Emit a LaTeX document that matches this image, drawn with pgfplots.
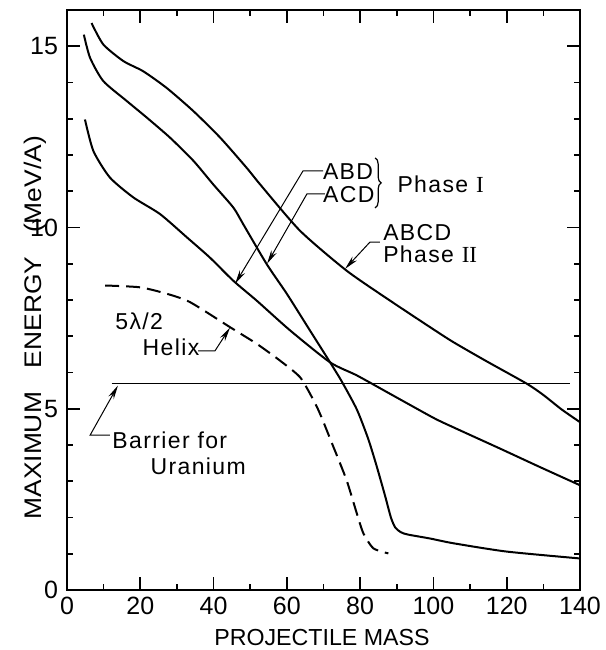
\documentclass[border=0pt]{standalone}
\usepackage{fontspec}
\setmainfont{Liberation Sans}
\newfontfamily\romfont{Liberation Serif}
\newfontfamily\annfont[LetterSpace=6]{Liberation Sans}
\usepackage{graphicx}
\usepackage{pgfplots}
\pgfplotsset{compat=1.18}
\usetikzlibrary{arrows.meta,decorations.pathreplacing}

\tikzset{
  lead/.style={line width=0.5pt,-{Stealth[length=7pt,width=3pt]}},
  ann/.style={font=\annfont\fontsize{11.5}{13}\selectfont, inner sep=0pt},
}

\begin{document}
\begin{tikzpicture}
\begin{axis}[
    at={(0,0)}, anchor=south west,
    scale only axis, width=256.5pt, height=290pt,
    xmin=0, xmax=140, ymin=0, ymax=16,
    xtick={0,20,...,140}, ytick={0,5,10,15},
    minor x tick num=1, minor y tick num=4,
    tick align=inside,
    major tick length=6.5pt, minor tick length=3pt,
    tick style={black, line width=0.8pt},
    axis line style={line width=1pt},
    ticklabel style={font=\fontsize{12.5}{14}\selectfont},
    yticklabel style={xshift=-1pt},
    /pgf/number format/assume math mode=true,
    xlabel={PROJECTILE MASS},
    xlabel style={font=\fontsize{11.6}{13}\selectfont, at={(axis description cs:0.497,0)}, anchor=center, yshift=-24pt},
    ylabel={\scalebox{1.1}[1]{MAXIMUM\hspace{0.9em}ENERGY\hspace{0.9em}(MeV/A)}},
    ylabel style={font=\fontsize{12}{14}\selectfont, at={(axis description cs:0,0.452)}, anchor=center, yshift=16pt},
    clip=false,
]
% ABCD Phase II
\addplot[black, line width=1pt, smooth, tension=0.4] coordinates {
  (6.7,15.64) (9.9,15.05) (15.4,14.59) (20.8,14.31) (27.2,13.85) (34.5,13.21)
  (41.8,12.48) (49.0,11.65) (52.7,11.19) (63.6,9.91) (76.3,8.81) (88.2,7.98)
  (99.1,7.25) (105.4,6.84) (114.5,6.31) (125.5,5.69) (130,5.38) (135,4.98)
  (140,4.63)
};
% ACD Phase I
\addplot[black, line width=1pt, smooth, tension=0.4] coordinates {
  (4.6,15.32) (6.3,14.68) (9.9,14.04) (16.3,13.49) (21.8,13.03) (28.1,12.48)
  (34.5,11.84) (39.9,11.19) (45.4,10.55) (48.1,10.09) (54.5,8.99) (60,8.17)
  (66.3,7.16) (71.8,6.28) (75.0,5.75) (79.1,4.98) (82.2,4.17) (84.5,3.42)
  (86.8,2.60) (88.4,2.00) (89.6,1.72) (91.2,1.59) (93,1.53) (99.1,1.42)
  (105.4,1.29) (120,1.06) (140,0.87)
};
% ABD Phase I
\addplot[black, line width=1pt, smooth, tension=0.4] coordinates {
  (4.9,12.98) (7.2,12.11) (11.7,11.38) (18.1,10.83) (25.4,10.37) (32.7,9.73)
  (39.0,9.17) (45.4,8.53) (51.8,7.98) (60.9,7.16) (71.8,6.28) (79.1,5.92)
  (88.2,5.41) (100,4.75) (105.4,4.49) (118.2,3.90) (129.1,3.39) (140,2.89)
};
% 5 lambda/2 helix
\addplot[black, line width=1pt, smooth, tension=0.4, dash pattern=on 7pt off 3.5pt] coordinates {
  (10.4,8.40) (19.9,8.35) (27.3,8.17) (33.6,7.94) (44.5,7.25) (51.8,6.79)
  (58.1,6.33) (63.6,5.87) (67.2,5.25) (69.1,4.85) (72.7,3.95)
  (76.3,3.03) (79.1,2.11) (80.9,1.56) (83.6,1.15) (87.7,1.01)
};
% barrier for uranium
\addplot[black, line width=0.5pt] coordinates {(12.2,5.7) (137.3,5.7)};

% labels and leaders
\node[ann, anchor=center] at (axis cs:76.7,11.53) {ABD};
\node[ann, anchor=center] at (axis cs:76.9,10.90) {ACD};
\draw[line width=0.6pt, decorate, decoration={brace, amplitude=3pt}]
  (axis cs:84.1,11.92) -- (axis cs:84.1,10.54);
\node[ann, anchor=west] at (axis cs:90.1,11.2) {Phase {\romfont I}};
\node[ann, anchor=west] at (axis cs:86.2,9.85) {ABCD};
\node[ann, anchor=west] at (axis cs:86.2,9.25) {Phase {\romfont II}};
\node[ann, anchor=center] at (axis cs:19.7,7.40) {5λ/2};
\node[ann, anchor=center] at (axis cs:28.4,6.69) {Helix};
\node[ann, anchor=west] at (axis cs:12.3,4.13) {Barrier for};
\node[ann, anchor=center] at (axis cs:35.8,3.41) {Uranium};

\draw[lead] (axis cs:69.9,11.56) -- (axis cs:64.4,11.56) -- (axis cs:45.9,8.45);
\draw[lead] (axis cs:70.4,10.93) -- (axis cs:65.5,10.93) -- (axis cs:54.6,9.0);
\draw[lead] (axis cs:85.4,9.6) -- (axis cs:82.7,9.6) -- (axis cs:75.9,8.86);
\draw[lead] (axis cs:35.8,6.6) -- (axis cs:40.4,6.6) -- (axis cs:44.5,7.24);
\draw[lead] (axis cs:11.7,4.27) -- (axis cs:6.3,4.27) -- (axis cs:13.9,5.64);
\end{axis}
\pgfresetboundingbox
\useasboundingbox (-33.5pt,-30pt) rectangle (269.5pt,295pt);
\end{tikzpicture}
\end{document}
